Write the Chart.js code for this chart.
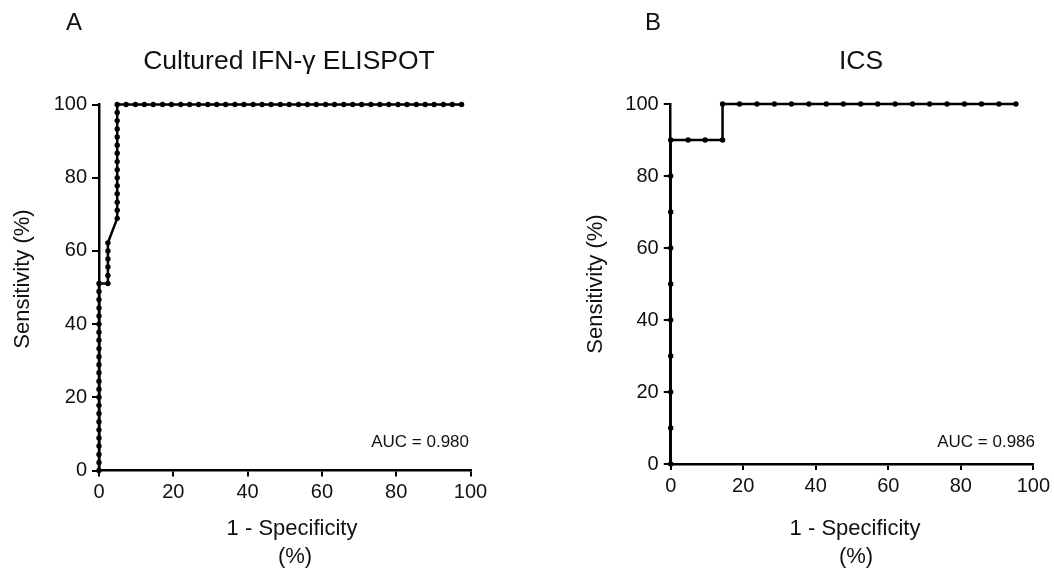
<!DOCTYPE html>
<html>
<head>
<meta charset="utf-8">
<script src="https://cdn.jsdelivr.net/npm/chart.js@4.4.1/dist/chart.umd.min.js"></script>
<style>
  html, body { margin: 0; padding: 0; background: #fff; }
  #wrap { position: relative; width: 1054px; height: 572px; }
  #wrap canvas { position: absolute; left: 0; top: 0; }
</style>
</head>
<body>
<div id="wrap">
  <canvas id="rocA" width="1054" height="572"></canvas>
  <canvas id="rocB" width="1054" height="572"></canvas>
</div>
<script>
// panel A: Cultured IFN-y ELISPOT, 1 - specificity (%) vs sensitivity (%)
const fprA = [
  0, 0, 0, 0, 0, 0, 0, 0, 0, 0, 0, 0, 0, 0, 0, 0, 0, 0, 0, 0, 0, 0, 0, 0,
  2.4, 2.4, 2.4, 2.4, 2.4, 2.4,
  4.9, 4.9, 4.9, 4.9, 4.9, 4.9, 4.9, 4.9, 4.9, 4.9, 4.9, 4.9, 4.9, 4.9, 4.9,
  7.3, 9.8, 12.2, 14.6, 17.1, 19.5, 22.0, 24.4, 26.8, 29.3, 31.7, 34.1, 36.6,
  39.0, 41.5, 43.9, 46.3, 48.8, 51.2, 53.7, 56.1, 58.5, 61.0, 63.4, 65.9, 68.3,
  70.7, 73.2, 75.6, 78.0, 80.5, 82.9, 85.4, 87.8, 90.2, 92.7, 95.1, 97.6
];
const tprA = [
  0, 2.2, 4.4, 6.7, 8.9, 11.1, 13.3, 15.6, 17.8, 20.0, 22.2, 24.4, 26.7, 28.9,
  31.1, 33.3, 35.6, 37.8, 40.0, 42.2, 44.4, 46.7, 48.9, 51.1,
  51.1, 53.3, 55.6, 57.8, 60.0, 62.2,
  68.9, 71.1, 73.3, 75.6, 77.8, 80.0, 82.2, 84.4, 86.7, 88.9, 91.1, 93.3, 95.6, 97.8, 100,
  100, 100, 100, 100, 100, 100, 100, 100, 100, 100, 100, 100, 100,
  100, 100, 100, 100, 100, 100, 100, 100, 100, 100, 100, 100, 100,
  100, 100, 100, 100, 100, 100, 100, 100, 100, 100, 100, 100
];

// panel B: ICS
const fprB = [
  0, 0, 0, 0, 0, 0, 0, 0, 0, 0,
  4.8, 9.5, 14.3,
  14.3,
  19.0, 23.8, 28.6, 33.3, 38.1, 42.9, 47.6, 52.4, 57.1, 61.9, 66.7, 71.4,
  76.2, 81.0, 85.7, 90.5, 95.2
];
const tprB = [
  0, 10, 20, 30, 40, 50, 60, 70, 80, 90,
  90, 90, 90,
  100,
  100, 100, 100, 100, 100, 100, 100, 100, 100, 100, 100, 100,
  100, 100, 100, 100, 100
];

const axisTicks = [0, 20, 40, 60, 80, 100];
const aucA = 'AUC = 0.980';
const aucB = 'AUC = 0.986';

const FONT = '"Liberation Sans", Arial, Helvetica, sans-serif';
const INK = '#111';

function toPoints(xs, ys) {
  return xs.map((x, i) => ({ x: x, y: ys[i] }));
}

// draws the free text of a panel (letters, titles, axis titles, AUC)
function textPlugin(items) {
  return {
    id: 'panelText',
    afterDraw(chart) {
      const ctx = chart.ctx;
      ctx.save();
      ctx.fillStyle = INK;
      items.forEach(t => {
        ctx.save();
        ctx.font = t.size + 'px ' + FONT;
        ctx.textAlign = t.align || 'center';
        ctx.textBaseline = t.base || 'middle';
        ctx.translate(t.x, t.y);
        if (t.rot) ctx.rotate(t.rot);
        ctx.fillText(t.text, 0, 0);
        ctx.restore();
      });
      ctx.restore();
    }
  };
}

function rocChart(id, pts, area, items) {
  const yW = 80;
  const scaleBase = {
    type: 'linear',
    min: 0,
    max: 100,
    border: { display: true, color: '#000', width: 2.5 },
    grid: { display: true, drawOnChartArea: false, drawTicks: true, color: '#000', lineWidth: 2 },
    ticks: {
      stepSize: 20,
      color: INK,
      font: { family: FONT, size: 20 },
      callback: v => axisTicks.includes(v) ? String(v) : ''
    },
    title: { display: false }
  };
  return new Chart(document.getElementById(id), {
    type: 'line',
    data: {
      datasets: [{
        data: pts,
        borderColor: '#000',
        borderWidth: 2.5,
        backgroundColor: '#000',
        pointRadius: 2.7,
        pointBackgroundColor: '#000',
        pointBorderWidth: 0,
        tension: 0,
        clip: false
      }]
    },
    options: {
      responsive: false,
      animation: false,
      events: [],
      layout: {
        padding: { left: area.left - yW, top: area.top, right: 1054 - area.right, bottom: 0 }
      },
      plugins: { legend: { display: false }, tooltip: { enabled: false }, title: { display: false } },
      scales: {
        x: Object.assign({}, scaleBase, {
          position: 'bottom',
          grid: Object.assign({}, scaleBase.grid, { tickLength: 6 }),
          ticks: Object.assign({}, scaleBase.ticks, { padding: 4, maxRotation: 0 }),
          afterFit: s => { s.height = 572 - area.bottom; }
        }),
        y: Object.assign({}, scaleBase, {
          position: 'left',
          grid: Object.assign({}, scaleBase.grid, { tickLength: 7 }),
          ticks: Object.assign({}, scaleBase.ticks, { padding: 5 }),
          afterFit: s => { s.width = yW; }
        })
      }
    },
    plugins: [textPlugin(items)]
  });
}

rocChart('rocA', toPoints(fprA, tprA), { left: 99, top: 104.5, right: 470.5, bottom: 470.5 }, [
  { text: 'A', x: 74, y: 23, size: 24 },
  { text: 'Cultured IFN-\u03b3 ELISPOT', x: 289, y: 62, size: 26.5 },
  { text: 'Sensitivity (%)', x: 23, y: 279, size: 22, rot: -Math.PI / 2 },
  { text: '1 - Specificity', x: 292, y: 529, size: 22 },
  { text: '(%)', x: 295, y: 557, size: 22 },
  { text: aucA, x: 469, y: 447, size: 17, align: 'right', base: 'alphabetic' }
]);

rocChart('rocB', toPoints(fprB, tprB), { left: 670.7, top: 104, right: 1036.7, bottom: 464 }, [
  { text: 'B', x: 653, y: 23, size: 24 },
  { text: 'ICS', x: 861, y: 62, size: 26.5 },
  { text: 'Sensitivity (%)', x: 596, y: 284, size: 22, rot: -Math.PI / 2 },
  { text: '1 - Specificity', x: 855, y: 529, size: 22 },
  { text: '(%)', x: 856, y: 557, size: 22 },
  { text: aucB, x: 1035, y: 447, size: 17, align: 'right', base: 'alphabetic' }
]);
</script>
</body>
</html>
